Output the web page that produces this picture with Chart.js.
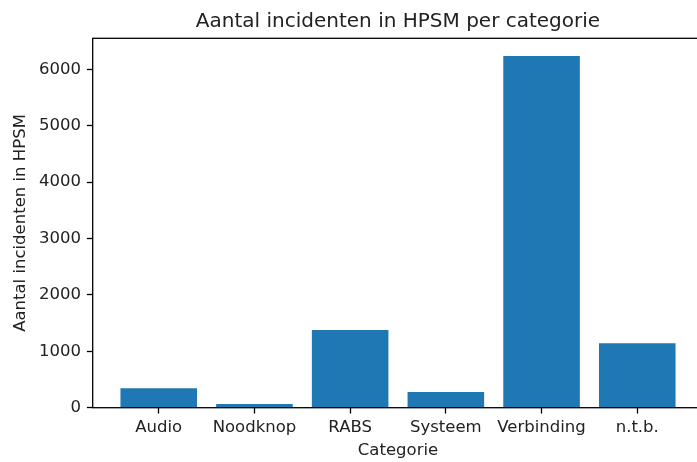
<!DOCTYPE html>
<html>
<head>
<meta charset="utf-8">
<script src="https://cdn.jsdelivr.net/npm/chart.js@4"></script>
<style>
  html, body { margin: 0; padding: 0; background: #fff; overflow: hidden; }
  #wrap { width: 720px; height: 462px; }
</style>
</head>
<body>
<div id="wrap"><canvas id="incidenten-chart" width="720" height="462"></canvas></div>
<script>
// gegevens uit de grafiek
const categorieen = ["Audio", "Noodknop", "RABS", "Systeem", "Verbinding", "n.t.b."];
const aantallen = [345, 66, 1379, 278, 6234, 1142];
const yTicks = [0, 1000, 2000, 3000, 4000, 5000, 6000];

const tekstKleur = "#222";
const font = { family: "DejaVu Sans", size: 16.5 };

// kader rond het plotgebied (zoals matplotlib)
const kader = {
  id: "kader",
  afterDraw(chart) {
    const { ctx, chartArea: a } = chart;
    ctx.save();
    ctx.strokeStyle = "#000";
    ctx.lineWidth = 1.3;
    ctx.strokeRect(a.left, a.top, a.right - a.left, a.bottom - a.top);
    ctx.restore();
  }
};

const ctx = document.getElementById("incidenten-chart").getContext("2d");

new Chart(ctx, {
  type: "bar",
  data: {
    datasets: [
      {
        label: "Aantal incidenten",
        data: aantallen.map((v, i) => ({ x: i, y: v })),
        backgroundColor: "#1f77b4",
        borderWidth: 0,
        barPercentage: 0.8,
        categoryPercentage: 1
      }
    ]
  },
  options: {
    responsive: false,
    animation: false,
    layout: { padding: { left: 0, right: 16.7, top: 0, bottom: 0 } },
    plugins: {
      legend: { display: false },
      tooltip: { enabled: false },
      title: {
        display: true,
        text: "Aantal incidenten in HPSM per categorie",
        color: tekstKleur,
        fullSize: false,
        font: { family: "DejaVu Sans", size: 20, weight: "normal" },
        padding: { top: 10, bottom: 4.3 }
      }
    },
    scales: {
      x: {
        type: "linear",
        min: -0.69,
        max: 5.69,
        offset: false,
        afterBuildTicks: (s) => { s.ticks = categorieen.map((_, i) => ({ value: i })); },
        afterFit: (s) => { s.height = 54.3; },
        ticks: {
          callback: (v) => categorieen[v],
          autoSkip: false,
          maxRotation: 0,
          color: tekstKleur,
          font: font,
          padding: 4.5
        },
        grid: { offset: false, drawOnChartArea: false, drawTicks: true, tickLength: 5.8, tickColor: "#000", tickWidth: 1.3 },
        border: { display: false },
        title: { display: true, text: "Categorie", color: tekstKleur, font: font, padding: { top: 0, bottom: 1.1 } }
      },
      y: {
        min: 0,
        max: 6550,
        afterBuildTicks: (s) => { s.ticks = yTicks.map((v) => ({ value: v })); },
        afterFit: (s) => { s.width = 92.7; },
        ticks: { callback: (v) => String(v), color: tekstKleur, font: font, padding: 6 },
        grid: { drawOnChartArea: false, drawTicks: true, tickLength: 5.8, tickColor: "#000", tickWidth: 1.3 },
        border: { display: false },
        title: { display: true, text: "Aantal incidenten in HPSM", color: tekstKleur, font: font, padding: { top: 11, bottom: 0 } }
      }
    }
  },
  plugins: [kader]
});
</script>
</body>
</html>
